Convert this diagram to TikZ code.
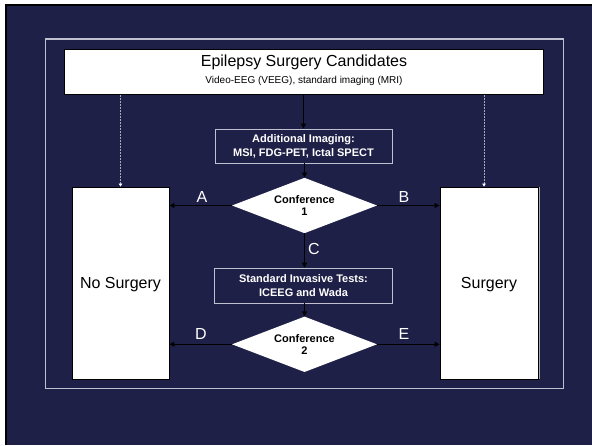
\documentclass[tikz,border=0pt]{standalone}
\usepackage{fontspec}
\setmainfont{Liberation Sans}
\usetikzlibrary{shapes.geometric,arrows.meta}
\definecolor{navy}{RGB}{31,32,71}
\definecolor{framegray}{RGB}{192,192,208}
\definecolor{dashgray}{RGB}{170,170,185}
\begin{document}
\begin{tikzpicture}[x=1pt,y=-1pt,
  whitebox/.style={draw=black, line width=0.9pt, fill=white, inner sep=0pt},
  navybox/.style={draw=framegray, line width=0.9pt, fill=navy, text=white, inner sep=0pt,
    align=center, font=\bfseries\fontsize{11}{14}\selectfont},
  decision/.style={diamond, fill=white, draw=none, inner sep=0pt, aspect=2.6,
    minimum width=145pt, minimum height=55.5pt, align=center,
    font=\bfseries\fontsize{11}{11.7}\selectfont},
  arr/.style={draw=black, line width=1.1pt, -{Triangle[length=5pt,width=5pt]}},
  dashline/.style={draw=dashgray, line width=0.6pt, dash pattern=on 2pt off 1pt,
    -{Triangle[length=3pt,width=3.5pt,fill=white,color=white]}},
  letter/.style={text=white, inner sep=0pt, font=\fontsize{16}{19}\selectfont},
  boxlabel/.style={inner sep=0pt, font=\fontsize{16}{19}\selectfont}
]
\useasboundingbox (0,0) rectangle (592,445);
\fill[white] (0,0) rectangle (592,445);
\fill[black] (5,3.7) rectangle (592,445);
\fill[navy] (7,5.8) rectangle (592,445);
\draw[framegray, line width=1.2pt] (45.7,39) rectangle (563.5,388.3);

% top box
\node[whitebox, minimum width=479pt, minimum height=45.5pt] (top) at (303.8,71.8) {};
\node[inner sep=0pt, font=\fontsize{16}{19}\selectfont] (title) at (304,62.5) {Epilepsy Surgery Candidates};
\node[inner sep=0pt, font=\fontsize{10}{12}\selectfont] (sub) at (304,81) {Video-EEG (VEEG), standard imaging (MRI)};

% side boxes
\node[whitebox, minimum width=97pt, minimum height=192pt] (nos) at (120.5,283) {};
\node[boxlabel] (nostext) at (120.5,285) {No Surgery};
\node[whitebox, minimum width=98pt, minimum height=192pt] (surg) at (489,283) {};
\draw[gray!70, line width=1pt] ([xshift=0.9pt]surg.north east) -- ([xshift=0.9pt]surg.south east);
\node[boxlabel] (surgtext) at (489,285) {Surgery};

% central column
\node[navybox, minimum width=177pt, minimum height=34pt] (add) at (303.5,146)
  {Additional Imaging:\\MSI, FDG-PET, Ictal SPECT};
\node[decision] (d1) at (304.5,205.5) {Conference\\1};
\node[navybox, minimum width=178pt, minimum height=35pt] (std) at (303.5,285.5)
  {Standard Invasive Tests:\\ICEEG and Wada};
\node[decision] (d2) at (304.5,344.3) {Conference\\2};

% connectors
\draw[arr] (top.south -| add.north) -- (add.north);
\draw[arr] (add.south -| d1.north) -- (d1.north);
\draw[arr] (d1.south) -- (d1.south |- std.north);
\draw[arr] (std.south -| d2.north) -- (d2.north);
\draw[arr] (d1.west) -- (d1.west -| nos.east);
\draw[arr] (d1.east) -- (d1.east -| surg.west);
\draw[arr] (d2.west) -- (d2.west -| nos.east);
\draw[arr] (d2.east) -- (d2.east -| surg.west);
\draw[dashline] (top.south -| nos.north) -- (nos.north);
\draw[dashline] ([xshift=-5pt]top.south -| surg.north) -- ([xshift=-5pt]surg.north);

% letters
\node[letter] (la) at (202,197) {A};
\node[letter] (lb) at (404,197) {B};
\node[letter] (lc) at (314,249) {C};
\node[letter] (ld) at (201,334) {D};
\node[letter] (le) at (404,334) {E};
\end{tikzpicture}
\end{document}
